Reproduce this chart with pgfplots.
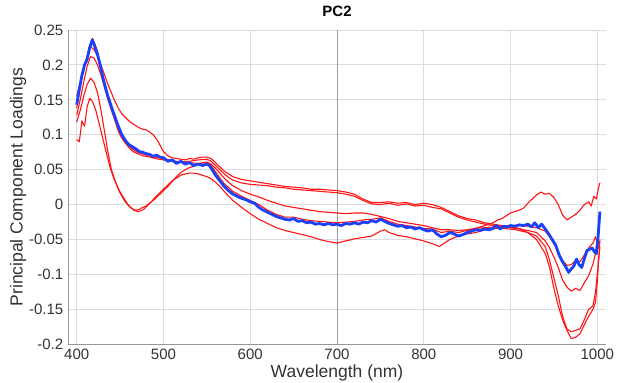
\documentclass[border=0pt]{standalone}
\usepackage{pgfplots}
\pgfplotsset{compat=1.18}
\usepackage{fontspec}
\setmainfont{Liberation Sans}
\definecolor{pcred}{RGB}{255,20,20}
\definecolor{pcblue}{RGB}{25,65,250}
\definecolor{gridc}{RGB}{220,220,220}
\definecolor{axc}{RGB}{150,150,150}
\definecolor{txt}{RGB}{50,50,50}
\begin{document}
\begin{tikzpicture}[x=1pt,y=1pt]
\begin{axis}[
  at={(68.3pt,37.7pt)}, anchor=south west,
  scale only axis, width=537.4pt, height=314.3pt,
  xmin=390.3, xmax=1009.7, ymin=-0.2, ymax=0.25,
  xtick={400,500,...,1000},
  ytick={-0.2,-0.15,-0.1,-0.05,0,0.05,0.1,0.15,0.2,0.25},
  yticklabels={-0.2,-0.15,-0.1,-0.05,0,0.05,0.1,0.15,0.2,0.25},
  xticklabels={400,500,600,700,800,900,1000},
  axis x line*=bottom, axis y line*=left,
  axis line style={axc, line width=0.9pt, -},
  major tick length=0pt,
  grid=major, major grid style={gridc, line width=0.9pt},
  tick label style={font=\fontsize{15}{17}\selectfont, text=txt},
  xticklabel style={yshift=-1pt},
  yticklabel style={xshift=-1.5pt},
  title={\textbf{PC2}}, title style={font=\fontsize{15}{17}\selectfont, at={(0.5,1)}, yshift=4pt, anchor=south},
  xlabel={Wavelength (nm)}, xlabel style={font=\fontsize{17.5}{20}\selectfont, text=txt, at={(axis description cs:0.5,0)}, anchor=base, yshift=-33.5pt},
  ylabel={Principal Component Loadings}, ylabel style={font=\fontsize{17.5}{20}\selectfont, text=txt, yshift=-4pt},
  clip=false,
  every axis plot/.append style={line join=round},
]
\draw[gridc, line width=0.9pt] (axis cs:1000,0.25) -- (axis cs:1009.7,0.25);
\draw[gray!75, line width=0.9pt] (axis cs:700,-0.2) -- (axis cs:700,0.25);
% R2
\addplot[pcred, line width=1.1pt] coordinates {
(400,0.155)(404,0.175)(408,0.195)(412,0.212)(416,0.226)(420,0.222)(424,0.212)(428,0.200)(432,0.186)(436,0.172)(440,0.160)(444,0.148)(448,0.138)(452,0.130)(456,0.125)(460,0.120)(464,0.116)(468,0.113)(472,0.110)(476,0.108)(480,0.107)(484,0.104)(488,0.100)(492,0.094)(496,0.085)(500,0.076)(505,0.070)(510,0.067)(515,0.066)(520,0.065)(525,0.064)(530,0.066)(535,0.065)(540,0.067)(545,0.068)(550,0.068)(555,0.066)(560,0.060)(565,0.054)(570,0.048)(575,0.044)(580,0.040)(590,0.036)(600,0.034)(610,0.032)(620,0.030)(630,0.028)(640,0.026)(650,0.025)(660,0.024)(670,0.022)(680,0.022)(690,0.021)(700,0.020)(710,0.018)(720,0.015)(730,0.008)(740,0.003)(750,0.003)(760,0.004)(770,0.002)(780,0.003)(790,0.000)(800,0.002)(810,0.000)(820,-0.004)(830,-0.010)(840,-0.016)(850,-0.020)(860,-0.022)(870,-0.026)(880,-0.028)(890,-0.030)(900,-0.032)(910,-0.034)(920,-0.040)(930,-0.050)(940,-0.070)(945,-0.090)(950,-0.120)(955,-0.145)(960,-0.165)(965,-0.180)(970,-0.192)(975,-0.190)(980,-0.185)(985,-0.172)(990,-0.160)(995,-0.150)(998,-0.140)(1000,-0.110)(1003,-0.050)};
% R3
\addplot[pcred, line width=1.1pt] coordinates {
(400,0.128)(404,0.150)(408,0.175)(412,0.198)(416,0.212)(420,0.210)(424,0.200)(428,0.185)(432,0.168)(436,0.150)(440,0.135)(444,0.120)(448,0.105)(452,0.095)(456,0.088)(460,0.082)(464,0.077)(468,0.074)(472,0.072)(476,0.070)(480,0.069)(485,0.068)(490,0.066)(495,0.065)(500,0.064)(505,0.063)(510,0.062)(520,0.061)(530,0.062)(540,0.064)(550,0.065)(555,0.062)(560,0.056)(565,0.050)(570,0.044)(575,0.039)(580,0.035)(590,0.031)(600,0.029)(610,0.028)(620,0.027)(630,0.025)(640,0.024)(650,0.022)(660,0.021)(670,0.020)(680,0.019)(690,0.018)(700,0.017)(710,0.015)(720,0.012)(730,0.006)(740,0.001)(750,0.000)(760,0.002)(770,-0.001)(780,0.001)(790,-0.002)(800,-0.001)(810,-0.004)(820,-0.006)(830,-0.012)(840,-0.018)(850,-0.022)(860,-0.025)(870,-0.028)(880,-0.030)(890,-0.031)(900,-0.033)(910,-0.035)(920,-0.037)(930,-0.040)(940,-0.052)(945,-0.062)(950,-0.075)(955,-0.090)(960,-0.108)(965,-0.118)(970,-0.124)(975,-0.120)(980,-0.123)(985,-0.112)(990,-0.102)(995,-0.085)(998,-0.070)(1000,-0.050)(1003,-0.055)};
% M
\addplot[pcred, line width=1.1pt] coordinates {
(400,0.118)(404,0.135)(408,0.155)(412,0.172)(416,0.181)(420,0.175)(424,0.160)(428,0.135)(432,0.105)(436,0.075)(440,0.050)(444,0.035)(448,0.022)(452,0.012)(456,0.004)(460,-0.002)(464,-0.006)(468,-0.008)(472,-0.007)(476,-0.004)(480,-0.002)(485,0.003)(490,0.008)(495,0.014)(500,0.020)(505,0.026)(510,0.033)(515,0.040)(520,0.046)(525,0.050)(530,0.053)(535,0.055)(540,0.058)(545,0.060)(550,0.061)(555,0.058)(560,0.052)(565,0.045)(570,0.038)(575,0.032)(580,0.027)(590,0.020)(600,0.015)(610,0.011)(620,0.006)(630,0.002)(640,-0.002)(650,-0.004)(660,-0.006)(670,-0.008)(680,-0.010)(690,-0.011)(700,-0.012)(710,-0.013)(720,-0.012)(730,-0.012)(740,-0.014)(750,-0.017)(760,-0.020)(770,-0.024)(780,-0.026)(790,-0.028)(800,-0.030)(810,-0.033)(820,-0.036)(830,-0.036)(840,-0.037)(850,-0.036)(860,-0.034)(870,-0.030)(880,-0.026)(885,-0.022)(890,-0.020)(895,-0.016)(900,-0.012)(905,-0.010)(910,-0.008)(915,-0.005)(920,0.002)(925,0.008)(930,0.014)(935,0.018)(940,0.015)(945,0.016)(950,0.010)(955,0.000)(960,-0.015)(965,-0.022)(970,-0.018)(975,-0.014)(980,-0.008)(985,0.000)(990,0.004)(993,-0.002)(996,0.012)(999,0.008)(1001,0.022)(1003,0.031)};
% L
\addplot[pcred, line width=1.1pt] coordinates {
(400,0.093)(403,0.090)(406,0.120)(409,0.112)(412,0.140)(415,0.152)(418,0.148)(422,0.135)(426,0.115)(430,0.095)(434,0.075)(438,0.055)(442,0.040)(446,0.028)(450,0.018)(454,0.010)(458,0.002)(462,-0.004)(466,-0.008)(470,-0.010)(474,-0.009)(478,-0.006)(482,-0.001)(486,0.004)(490,0.010)(495,0.016)(500,0.022)(505,0.028)(510,0.034)(515,0.038)(520,0.042)(525,0.044)(530,0.045)(535,0.045)(540,0.044)(550,0.040)(555,0.037)(560,0.032)(565,0.026)(570,0.019)(575,0.012)(580,0.006)(590,-0.004)(600,-0.013)(610,-0.021)(620,-0.027)(630,-0.033)(640,-0.037)(650,-0.040)(660,-0.043)(670,-0.046)(680,-0.050)(690,-0.053)(700,-0.055)(710,-0.052)(720,-0.049)(730,-0.047)(740,-0.045)(750,-0.038)(755,-0.036)(760,-0.040)(770,-0.044)(780,-0.046)(790,-0.049)(800,-0.052)(810,-0.056)(818,-0.060)(825,-0.054)(830,-0.050)(840,-0.045)(845,-0.043)(850,-0.042)(860,-0.040)(870,-0.036)(880,-0.034)(890,-0.034)(900,-0.035)(910,-0.037)(920,-0.040)(930,-0.045)(940,-0.060)(945,-0.080)(950,-0.105)(955,-0.130)(960,-0.160)(965,-0.178)(970,-0.182)(975,-0.180)(980,-0.178)(985,-0.165)(990,-0.150)(995,-0.145)(998,-0.125)(1000,-0.100)(1003,-0.060)};
% R1
\addplot[pcred, line width=1.1pt] coordinates {
(400,0.138)(404,0.170)(408,0.195)(412,0.212)(415,0.228)(418,0.238)(421,0.230)(424,0.218)(428,0.196)(432,0.174)(436,0.156)(440,0.140)(445,0.122)(450,0.104)(455,0.092)(460,0.084)(465,0.079)(470,0.075)(475,0.073)(480,0.071)(490,0.068)(500,0.066)(510,0.063)(520,0.061)(530,0.060)(540,0.059)(550,0.060)(555,0.056)(560,0.047)(565,0.038)(570,0.030)(580,0.019)(590,0.012)(600,0.006)(610,0.000)(620,-0.008)(630,-0.014)(640,-0.018)(650,-0.018)(660,-0.021)(670,-0.023)(680,-0.024)(690,-0.025)(700,-0.026)(710,-0.025)(720,-0.024)(730,-0.022)(740,-0.021)(750,-0.019)(760,-0.024)(770,-0.028)(780,-0.030)(790,-0.032)(800,-0.034)(810,-0.035)(820,-0.040)(830,-0.038)(840,-0.040)(850,-0.037)(860,-0.034)(870,-0.033)(880,-0.032)(890,-0.031)(900,-0.030)(910,-0.030)(920,-0.031)(930,-0.033)(940,-0.038)(945,-0.046)(950,-0.056)(955,-0.068)(960,-0.080)(965,-0.087)(970,-0.086)(975,-0.080)(980,-0.082)(985,-0.072)(990,-0.062)(995,-0.055)(998,-0.046)(1001,-0.060)(1003,-0.065)};
% Blue
\addplot[pcblue, line width=2.8pt] coordinates {
(400,0.143)(403,0.165)(406,0.185)(409,0.200)(412,0.208)(415,0.225)(418,0.236)(421,0.226)(424,0.215)(427,0.200)(430,0.183)(433,0.168)(436,0.155)(440,0.140)(444,0.126)(448,0.112)(452,0.100)(456,0.092)(460,0.086)(464,0.083)(468,0.080)(472,0.076)(476,0.075)(480,0.073)(484,0.072)(488,0.069)(492,0.071)(496,0.068)(500,0.067)(505,0.062)(510,0.064)(515,0.059)(520,0.062)(525,0.058)(530,0.060)(535,0.056)(540,0.058)(545,0.056)(550,0.058)(553,0.056)(556,0.050)(560,0.042)(565,0.034)(570,0.026)(575,0.020)(580,0.015)(585,0.012)(590,0.009)(595,0.007)(600,0.004)(605,0.002)(610,-0.004)(615,-0.008)(620,-0.011)(625,-0.014)(630,-0.017)(635,-0.019)(640,-0.021)(645,-0.022)(650,-0.020)(655,-0.024)(660,-0.023)(665,-0.026)(670,-0.025)(675,-0.028)(680,-0.027)(685,-0.029)(690,-0.027)(695,-0.029)(700,-0.028)(705,-0.030)(710,-0.027)(715,-0.028)(720,-0.026)(725,-0.028)(730,-0.025)(735,-0.026)(740,-0.023)(745,-0.025)(750,-0.021)(755,-0.024)(760,-0.027)(765,-0.029)(770,-0.031)(775,-0.030)(780,-0.033)(785,-0.032)(790,-0.035)(795,-0.033)(800,-0.036)(805,-0.038)(810,-0.036)(815,-0.042)(820,-0.046)(825,-0.044)(830,-0.040)(835,-0.042)(840,-0.045)(845,-0.043)(850,-0.040)(855,-0.038)(860,-0.036)(865,-0.037)(870,-0.035)(875,-0.036)(880,-0.034)(884,-0.030)(888,-0.035)(892,-0.031)(896,-0.032)(900,-0.030)(905,-0.031)(910,-0.029)(915,-0.030)(920,-0.028)(924,-0.032)(928,-0.026)(932,-0.033)(936,-0.028)(940,-0.035)(944,-0.042)(948,-0.050)(952,-0.058)(956,-0.072)(960,-0.082)(964,-0.090)(967,-0.097)(970,-0.092)(973,-0.088)(976,-0.078)(979,-0.086)(982,-0.090)(985,-0.078)(988,-0.066)(991,-0.064)(994,-0.062)(997,-0.068)(999,-0.070)(1001,-0.045)(1003,-0.010)};
\end{axis}
\pgfresetboundingbox
\useasboundingbox (0,0) rectangle (617,382);
\end{tikzpicture}
\end{document}
